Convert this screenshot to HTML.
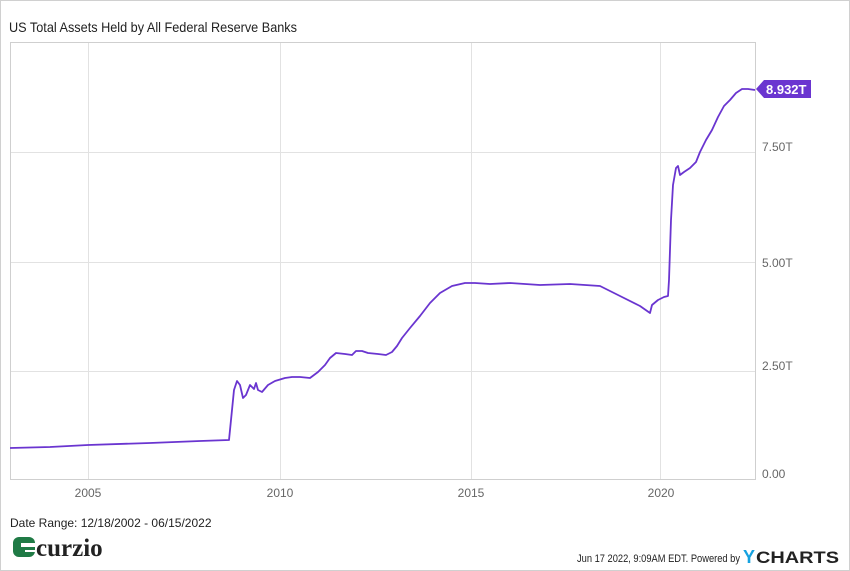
<!DOCTYPE html>
<html><head><meta charset="utf-8"><style>
body{margin:0;background:#fff;}
svg{display:block;font-family:"Liberation Sans",sans-serif;}
</style></head><body>
<svg width="850" height="571" viewBox="0 0 850 571" xmlns="http://www.w3.org/2000/svg">
<rect x="0.5" y="0.5" width="849" height="570" fill="#fff" stroke="#d0d0d0"/>
<text x="9" y="32" font-size="14" fill="#222" textLength="288" lengthAdjust="spacingAndGlyphs">US Total Assets Held by All Federal Reserve Banks</text>
<g stroke="#e2e2e2" stroke-width="1">
<line x1="88.5" y1="42" x2="88.5" y2="479"/>
<line x1="280.5" y1="42" x2="280.5" y2="479"/>
<line x1="471.5" y1="42" x2="471.5" y2="479"/>
<line x1="660.5" y1="42" x2="660.5" y2="479"/>
<line x1="10" y1="152.5" x2="755" y2="152.5"/>
<line x1="10" y1="262.5" x2="755" y2="262.5"/>
<line x1="10" y1="371.5" x2="755" y2="371.5"/>
</g>
<rect x="10.5" y="42.5" width="745" height="437" fill="none" stroke="#cfcfcf"/>
<g font-size="12" fill="#666">
<text x="88" y="497" text-anchor="middle">2005</text>
<text x="280" y="497" text-anchor="middle">2010</text>
<text x="471" y="497" text-anchor="middle">2015</text>
<text x="661" y="497" text-anchor="middle">2020</text>
<text x="762" y="478">0.00</text>
<text x="762" y="370">2.50T</text>
<text x="762" y="267">5.00T</text>
<text x="762" y="151">7.50T</text>
</g>
<polyline fill="none" stroke="#6a35d0" stroke-width="1.8" stroke-linejoin="round" points="10,448 50,447 88,445 150,443 200,441 229,440 231,420 234,390 237,381 240,385 243,398 246,395 250,385 254,389 256,383 258,390 262,392 268,385 275,381 285,378 292,377 300,377 310,378 318,372 325,365 330,358 336,353 345,354 352,355 356,351 362,351 368,353 378,354 386,355 392,352 397,346 402,338 410,328 420,316 430,303 440,293 452,286 465,283 475,283 490,284 510,283 540,285 570,284 600,286 620,296 640,306 650,313 652,305 658,300 664,297 668,296 669,280 671,220 673,185 676,168 678,166 680,175 684,172 690,168 696,162 700,152 706,140 712,130 718,117 724,106 730,100 736,93 742,89 748,89 755,90"/>
<polygon points="756,89 764,80 811,80 811,98 764,98" fill="#6a35d0"/>
<text x="766" y="94" font-size="13" font-weight="bold" fill="#fff">8.932T</text>
<text x="10" y="527" font-size="12" fill="#222">Date Range: 12/18/2002 - 06/15/2022</text>
<g>
<rect x="13" y="537" width="22" height="20" rx="6" fill="#1f7a45"/>
<rect x="21" y="543" width="14" height="4" fill="#fff"/>
<rect x="25" y="550" width="10" height="2" fill="#fff"/>
<text x="36" y="556" font-family="Liberation Serif,serif" font-size="25" font-weight="bold" fill="#222">curzio</text>
</g>
<text x="577" y="562" font-size="11" fill="#222" textLength="163" lengthAdjust="spacingAndGlyphs">Jun 17 2022, 9:09AM EDT.  Powered by</text>
<text x="743" y="563" font-size="18" font-weight="bold" fill="#16a2e0">Y</text>
<text x="756" y="563" font-size="17" font-weight="bold" fill="#222" textLength="83" lengthAdjust="spacingAndGlyphs">CHARTS</text>
</svg>
</body></html>
